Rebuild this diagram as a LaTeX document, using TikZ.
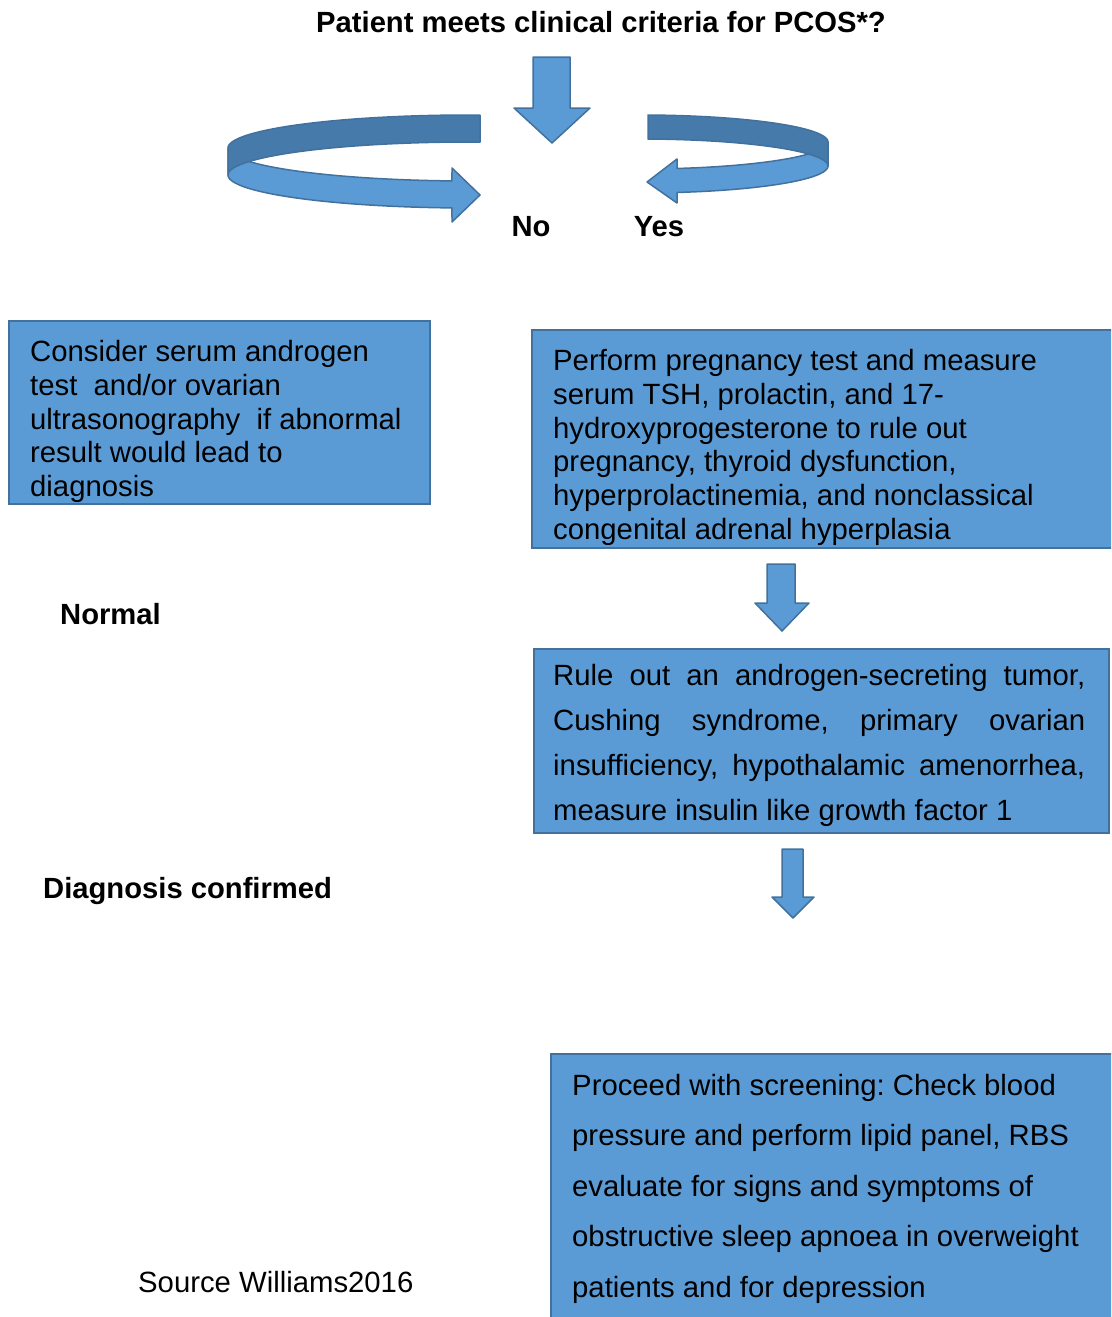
\documentclass[tikz,border=0pt]{standalone}
\usepackage{fontspec}
\setmainfont{Liberation Sans}
\usetikzlibrary{positioning}
\frenchspacing

\definecolor{boxfill}{HTML}{5B9BD5}
\definecolor{boxline}{HTML}{41719C}
\definecolor{bandback}{HTML}{467AAB}

\tikzset{
    infobox/.style={draw=boxline, fill=boxfill, line width=2.2pt, anchor=north west, inner sep=0pt},
    boxtext/.style={inner sep=0pt, align=left, font=\fontsize{29.3}{33.8}\selectfont},
    lbl/.style={inner sep=0pt, anchor=base west, font=\bfseries\fontsize{29.2}{32}\selectfont},
    blockarrow/.style={draw=boxline, fill=boxfill, line width=1.5pt, line join=round},
    backband/.style={draw=boxline, fill=bandback, line width=1.5pt, line join=round},
}

\begin{document}
\begin{tikzpicture}[x=1pt,y=-1pt]
        \clip (0,0) rectangle (1111,1317);

        % question and the two answers
        \node[lbl, anchor=base] (question) at (601,32) {Patient meets clinical criteria for PCOS*?};
        \draw[blockarrow] (533,57) -- (570,57) -- (570,108) -- (590,108) -- (552,143)
            -- (514,108) -- (533,108) -- cycle;

        % left turning ribbon
        \draw[blockarrow] plot[domain=180:94.27, samples=50] ({470+242*cos(\x)},{148+33*sin(\x)})
            -- (452,168) -- (480,195) -- (452,222)
            -- plot[domain=94.27:180, samples=50] ({470+242*cos(\x)},{175+33*sin(\x)}) -- cycle;
        \draw[backband] plot[domain=-87.63:-180, samples=50] ({470+242*cos(\x)},{148+33*sin(\x)})
            -- plot[domain=-180:-87.63, samples=50] ({470+242*cos(\x)},{175+33*sin(\x)}) -- cycle;

        % right turning ribbon
        \draw[blockarrow] plot[domain=0:78.65, samples=50] ({640+188*cos(\x)},{142+27*sin(\x)})
            -- (677,159) -- (647,182) -- (677,203)
            -- plot[domain=78.65:0, samples=50] ({640+188*cos(\x)},{166+27*sin(\x)}) -- cycle;
        \draw[backband] plot[domain=-87.56:0, samples=50] ({640+188*cos(\x)},{142+27*sin(\x)})
            -- plot[domain=0:-87.56, samples=50] ({640+188*cos(\x)},{166+27*sin(\x)}) -- cycle;

        \node[lbl, anchor=base] (no) at (531,236) {No};
        \node[lbl, anchor=base] (yes) at (659,236) {Yes};

        % left column
        \node[infobox, minimum width=421pt, minimum height=183pt] (consider) at (8,320) {};
        \node[boxtext, below right=20pt and 22pt of consider.north west] (considertxt)
            {Consider serum androgen\\test\ \ and/or ovarian\\ultrasonography\ \ if abnormal\\result would lead to\\diagnosis};
        \node[lbl] (normal) at (60,624) {Normal};
        \node[lbl] (confirmed) at (43,898) {Diagnosis confirmed};
        \node[boxtext, anchor=base west] (source) at (138,1292) {Source Williams2016};

        % right column
        \node[infobox, minimum width=600pt, minimum height=218pt] (pregnancy) at (531,329) {};
        \node[boxtext, below right=20pt and 22pt of pregnancy.north west] (pregnancytxt)
            {Perform pregnancy test and measure\\serum TSH, prolactin, and 17-\\hydroxyprogesterone to rule out\\pregnancy, thyroid dysfunction,\\hyperprolactinemia, and nonclassical\\congenital adrenal hyperplasia};
        \draw[blockarrow] (767,564) -- (795,564) -- (795,603) -- (809,603) -- (782,631)
            -- (755,603) -- (767,603) -- cycle;

        \node[infobox, minimum width=575pt, minimum height=184pt] (ruleout) at (533,648) {};
        \node[boxtext, align=justify, text width=532pt, font=\fontsize{29.3}{45}\selectfont,
            below right=16pt and 20pt of ruleout.north west] (ruleouttxt)
            {\hyphenpenalty=10000 Rule out an androgen-secreting tumor,\linebreak Cushing syndrome, primary ovarian\linebreak insufficiency, hypothalamic amenorrhea,\linebreak measure insulin like growth factor 1};
        \draw[blockarrow] (782,849) -- (803,849) -- (803,897) -- (814,897) -- (793,918)
            -- (772,897) -- (782,897) -- cycle;

        \node[infobox, minimum width=600pt, minimum height=300pt] (screening) at (550,1053) {};
        \node[boxtext, font=\fontsize{29.3}{50.5}\selectfont,
            below right=21pt and 22pt of screening.north west] (screeningtxt)
            {Proceed with screening: Check blood\\pressure and perform lipid panel, RBS\\evaluate for signs and symptoms of\\obstructive sleep apnoea in overweight\\patients and for depression};
\end{tikzpicture}
\end{document}
